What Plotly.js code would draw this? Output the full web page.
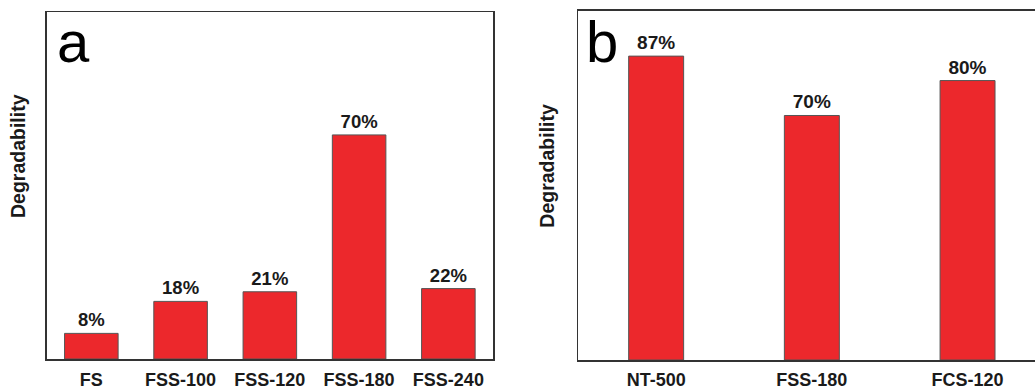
<!DOCTYPE html>
<html>
<head>
<meta charset="utf-8">
<script src="https://cdn.plot.ly/plotly-3.0.1.min.js"></script>
<style>
html,body{margin:0;padding:0;overflow:hidden;background:#fff;width:1035px;height:389px;}
#chart{width:1050px;height:389px;}
</style>
</head>
<body>
<div id="chart"></div>
<script>
// Panel a data
const catsA = ["FS", "FSS-100", "FSS-120", "FSS-180", "FSS-240"];
const valsA = [8, 18, 21, 70, 22];
// Panel b data
const catsB = ["NT-500", "FSS-180", "FCS-120"];
const valsB = [87, 70, 80];

const W = 1050, H = 389;
const red = "#ec282c";
const textFont = {family: "Arial, Liberation Sans, sans-serif", size: 18.5, color: "#1a1a1a", weight: "bold"};

const traceA = {
  type: "bar", x: catsA, y: valsA, xaxis: "x", yaxis: "y",
  width: 0.6,
  marker: {color: red, line: {color: "#555", width: 1}},
  text: valsA.map(v => v + "%"), textposition: "outside",
  textfont: textFont, cliponaxis: false, hoverinfo: "none"
};
const traceB = {
  type: "bar", x: catsB, y: valsB, xaxis: "x2", yaxis: "y2",
  width: 0.353,
  marker: {color: red, line: {color: "#555", width: 1}},
  text: valsB.map(v => v + "%"), textposition: "outside",
  textfont: Object.assign({}, textFont, {size: 19}), cliponaxis: false, hoverinfo: "none"
};

const axisLine = {showline: true, mirror: true, linecolor: "#333", linewidth: 1.5, showgrid: false, zeroline: false};
const tickFont = {family: "Arial, Liberation Sans, sans-serif", size: 18, color: "#1a1a1a", weight: "bold"};

const layout = {
  width: W, height: H,
  margin: {l: 0, r: 0, t: 0, b: 0},
  paper_bgcolor: "#fff", plot_bgcolor: "#fff",
  showlegend: false,
  xaxis: Object.assign({}, axisLine, {domain: [46.7/W, 493/W], anchor: "y", range: [-0.5, 4.5],
    tickfont: tickFont, ticks: "", ticklabelstandoff: 4}),
  yaxis: Object.assign({}, axisLine, {domain: [1-359/H, 1-12/H], anchor: "x", range: [0, 108.4],
    showticklabels: false, ticks: ""}),
  xaxis2: Object.assign({}, axisLine, {domain: [578.3/W, 1045.4/W], anchor: "y2", range: [-0.5, 2.5],
    tickfont: tickFont, ticks: "", ticklabelstandoff: 3}),
  yaxis2: Object.assign({}, axisLine, {domain: [1-360/H, 1-10.7/H], anchor: "x2", range: [0, 100],
    showticklabels: false, ticks: ""}),
  annotations: [
    {text: "a", xref: "paper", yref: "paper", x: 55/W, y: 1-42/H, xanchor: "left", yanchor: "middle",
      showarrow: false, font: {family: "Arial, Liberation Sans, sans-serif", size: 58, color: "#000"}},
    {text: "b", xref: "paper", yref: "paper", x: 584/W, y: 1-42/H, xanchor: "left", yanchor: "middle",
      showarrow: false, font: {family: "Arial, Liberation Sans, sans-serif", size: 58, color: "#000"}},
    {text: "Degradability", xref: "paper", yref: "paper", x: 18/W, y: 1-156/H, xanchor: "center", yanchor: "middle",
      textangle: -90, showarrow: false, font: {family: "Arial, Liberation Sans, sans-serif", size: 19.5, color: "#1a1a1a", weight: "bold"}},
    {text: "Degradability", xref: "paper", yref: "paper", x: 546.7/W, y: 1-166/H, xanchor: "center", yanchor: "middle",
      textangle: -90, showarrow: false, font: {family: "Arial, Liberation Sans, sans-serif", size: 19.5, color: "#1a1a1a", weight: "bold"}}
  ]
};

Plotly.newPlot("chart", [traceA, traceB], layout, {staticPlot: true, displayModeBar: false});
</script>
</body>
</html>
